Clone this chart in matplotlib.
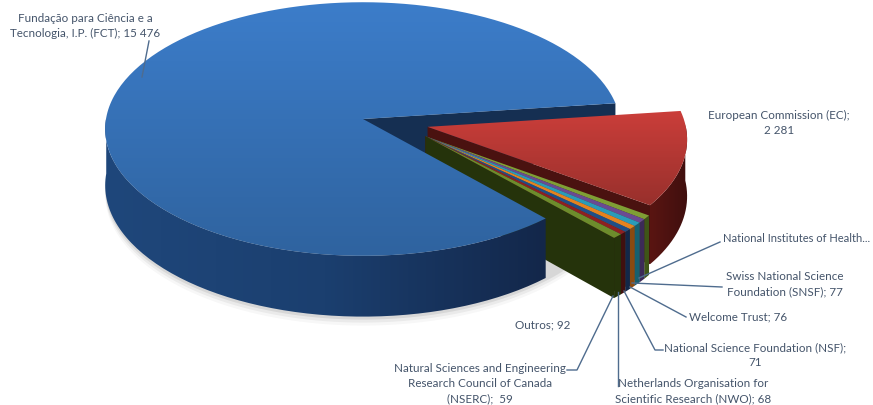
import numpy as np
import matplotlib
matplotlib.use("Agg")
import matplotlib.pyplot as plt
from matplotlib.colors import LinearSegmentedColormap
from matplotlib.patches import PathPatch, Polygon
from matplotlib.path import Path

plt.rcParams['font.family'] = ['Lato', 'DejaVu Sans']

# Data (NIH value is cut off in the original, estimated)
funders = ["FCT", "EC", "NIH", "SNSF", "Welcome", "NSF", "NWO", "NSERC", "Outros"]
values = [15476, 2281, 82, 77, 76, 71, 68, 59, 92]

top_colors = [("#3c7dca", "#2f639f"), ("#cb3e3a", "#98302c"), "#7f9f35", "#6a4a93",
              "#2a9bb8", "#e5821f", "#1f4e87", "#8f2020", "#6d8c2c"]
side_colors = [("#1f477b", "#1b3f6f", "#13274a"), ("#5a1512", "#3f0f0e"), "#3f5518", "#3c2a58",
               "#16606f", "#8a4a10", "#12284a", "#40100f", "#25330b"]
cut_colors = ["#152f52", "#4a1210", "#3f5518", "#3c2a58",
              "#16606f", "#8a4a10", "#12284a", "#40100f", "#25330b"]

# Projection of the tilted pie
CX, CY = 363, 120
RX, RY = 257, 126
TILT = 0.079
DEPTH = 56
START = 48.0
SMALL_SPREAD = 1.165


def project(u, v, down=False):
    w = 1 / (1 - TILT * v)
    x = CX + RX * u * w
    y = CY + RY * v * w
    if down:
        y = y + DEPTH * w
    return x, y


def fill(ax, verts, color, z):
    poly = Polygon(verts, closed=True, facecolor=color, edgecolor="none", zorder=z)
    ax.add_patch(poly)
    return poly


def gradient(ax, verts, colors, z, vertical=True):
    verts = np.array(verts)
    cmap = LinearSegmentedColormap.from_list("g", colors)
    x0, x1 = verts[:, 0].min(), verts[:, 0].max()
    y0, y1 = verts[:, 1].min(), verts[:, 1].max()
    g = np.linspace(0, 1, 256)
    g = g.reshape(-1, 1) if vertical else g.reshape(1, -1)
    im = ax.imshow(g, extent=(x0, x1, y1, y0), aspect="auto", cmap=cmap, zorder=z,
                   interpolation="bilinear")
    clip = PathPatch(Path(np.vstack([verts, verts[0]])), transform=ax.transData,
                     facecolor="none", edgecolor="none")
    ax.add_patch(clip)
    im.set_clip_path(clip)


def draw_slice(ax, a0, a1, off, top_c, side_c, cut_c, z, z_cut=None):
    ang = np.radians(np.linspace(a0, a1, 240))
    du, dv = off
    u = np.cos(ang) + du
    v = np.sin(ang) + dv
    tx, ty = project(u, v)
    bx, by = project(u, v, down=True)
    ax0, ay0 = project(du, dv)
    ax1, ay1 = project(du, dv, down=True)

    # outer wall, only the part turned to the viewer
    front = np.sin(ang) > -0.02
    if front.any():
        wall = np.vstack([np.c_[tx[front], ty[front]], np.c_[bx[front], by[front]][::-1]])
        if isinstance(side_c, str):
            fill(ax, wall, side_c, z)
        else:
            gradient(ax, wall, side_c, z, vertical=False)

    # cut face at the end of the slice
    if z_cut is None:
        z_cut = z + 0.1
    fill(ax, [(ax0, ay0), (tx[-1], ty[-1]), (bx[-1], by[-1]), (ax1, ay1)], cut_c, z_cut)

    # top
    top = np.vstack([[ax0, ay0], np.c_[tx, ty]])
    if isinstance(top_c, str):
        fill(ax, top, top_c, z + 0.2)
    else:
        gradient(ax, top, top_c, z + 0.2)


fig = plt.figure(figsize=(8.73, 4.06), dpi=100)
ax = fig.add_axes([0, 0, 1, 1])

# soft shadow under the pie
ang = np.radians(np.linspace(0, 360, 200))
for grow, alpha in [(9, 0.03), (6, 0.05), (3, 0.08)]:
    sx, sy = project(np.cos(ang), np.sin(ang), down=True)
    ax.add_patch(Polygon(np.c_[sx, sy + grow], closed=True, facecolor="black",
                         edgecolor="none", alpha=alpha, zorder=0.5))

sweeps = np.array(values) / sum(values) * 360
edges = START + np.concatenate([[0], np.cumsum(sweeps)])
# small slices are drawn a bit wider than their share, as in the original
edges[2:] = edges[-1] - (edges[-1] - edges[2:]) * SMALL_SPREAD

# the big blue slice goes last so it hides the lower part of the exploded faces,
# only its own cut face stays behind the red slice
for i in range(len(funders)):
    if i == 0:
        off, z, z_cut = (0, 0), 15, 1
    elif i == 1:
        off, z, z_cut = (0.25, 0.062), 1 + i, None
    else:
        off, z, z_cut = (0.24, 0.135), 1 + i, None
    draw_slice(ax, edges[i], edges[i + 1], off, top_colors[i], side_colors[i], cut_colors[i], z, z_cut)

# leader lines
LINE = "#4f6c8e"
leaders = [
    [(142, 78), (149, 42)],
    [(639, 279), (720, 243)],
    [(632, 284), (722, 288)],
    [(630, 288), (686, 318)],
    [(624, 292), (655, 351), (663, 351)],
    [(618, 293), (618, 387)],
    [(613, 297), (577, 371), (567, 371)],
]
for pts in leaders:
    xs, ys = zip(*pts)
    ax.plot(xs, ys, color=LINE, lw=1.0, zorder=20)

# labels
TXT = "#44546a"
labels = [
    (85, 26, "center", "Fundação para Ciência e a\nTecnologia, I.P. (FCT); 15 476"),
    (779, 123, "center", "European Commission (EC);\n2 281"),
    (723, 239, "left", "National Institutes of Health..."),
    (785, 284, "center", "Swiss National Science\nFoundation (SNSF); 77"),
    (689, 317, "left", "Welcome Trust; 76"),
    (755, 355, "center", "National Science Foundation (NSF);\n71"),
    (693, 391, "center", "Netherlands Organisation for\nScientific Research (NWO); 68"),
    (480, 384, "center", "Natural Sciences and Engineering\nResearch Council of Canada\n(NSERC);  59"),
    (543, 325, "center", "Outros; 92"),
]
for x, y, ha, s in labels:
    size = 8.0 if "Health" in s else 8.4
    ax.text(x, y, s, ha=ha, va="center", multialignment="center", fontsize=size,
            color=TXT, linespacing=1.45, zorder=21)

ax.set_xlim(0, 873)
ax.set_ylim(406, 0)
ax.axis("off")
fig.savefig("out.png", dpi=100)
